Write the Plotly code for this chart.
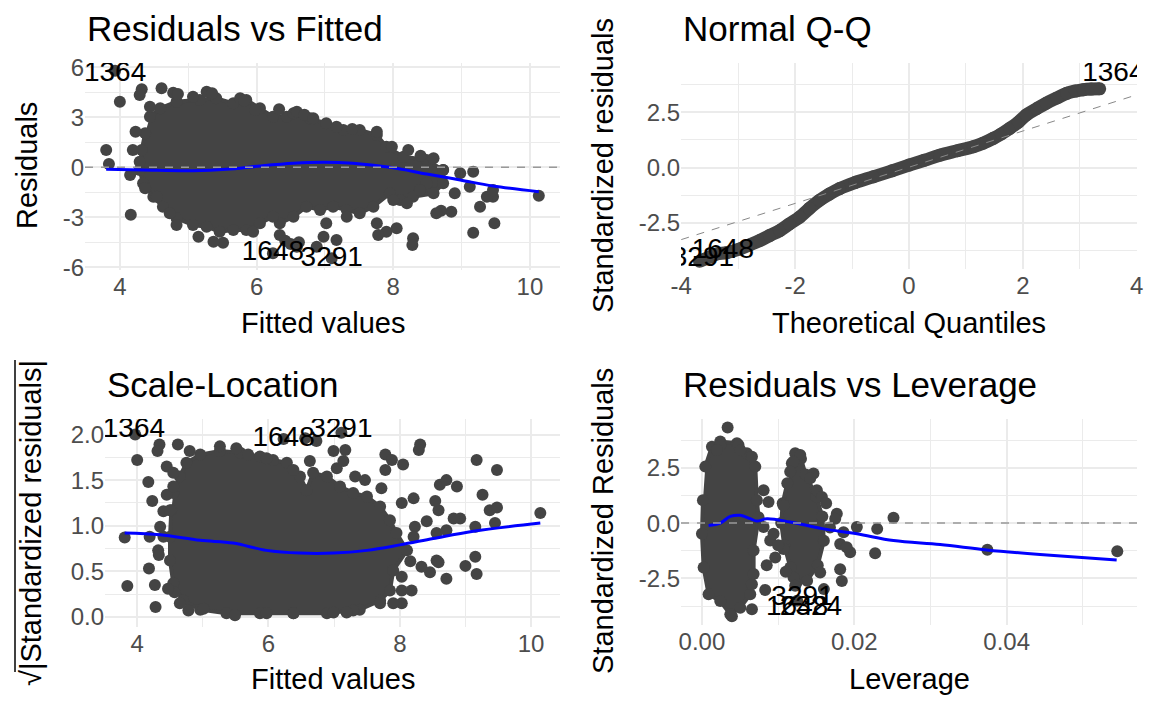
import plotly.graph_objects as go

# ---- Residuals vs Fitted ----
rvf_core_fitted = [4.44, 4.59, 4.83, 5.17, 5.41, 5.66, 5.85, 6.05, 6.24, 6.44,
                   6.54, 6.78, 7.02, 7.27, 7.51, 7.76, 7.90, 8.15, 8.49, 8.73,
                   8.73, 8.59, 8.29, 8.10, 7.95, 7.71, 7.51, 7.32, 7.12, 6.93,
                   6.73, 6.54, 6.34, 6.24, 6.05, 5.85, 5.66, 5.46, 5.27, 5.07,
                   4.83, 4.63, 4.49, 4.34, 4.29, 4.32, 4.37]
rvf_core_resid = [3.04, 3.54, 3.94, 4.04, 4.14, 3.84, 4.04, 3.54, 3.04, 3.04,
                  3.24, 2.94, 2.64, 2.24, 2.24, 1.94, 1.24, 0.64, 0.44, -0.16,
                  -0.96, -1.56, -1.76, -1.96, -1.56, -2.36, -2.76, -2.56, -2.36, -2.56,
                  -2.36, -2.96, -3.36, -2.96, -3.36, -3.76, -3.76, -3.86, -3.56, -3.46,
                  -3.06, -2.36, -1.76, -0.96, -0.16, 1.04, 2.04]
rvf_fitted = [3.93, 4.00, 3.80, 3.84, 4.16, 4.15, 4.23, 4.19, 4.32, 4.29,
              4.44, 4.61, 4.78, 4.85, 5.27, 5.35, 5.07, 5.76, 5.82, 5.98,
              6.33, 6.59, 6.70, 6.83, 7.17, 7.40, 7.76, 7.98, 8.22, 8.40,
              8.59, 8.73, 8.98, 9.17, 8.90, 9.12, 8.85, 8.70, 9.27, 9.46,
              9.37, 9.46, 9.17, 9.48, 10.13, 8.29, 8.28, 8.05, 7.90, 7.78,
              7.76, 7.32, 7.17, 7.02, 6.98, 6.88, 7.10, 6.24, 6.59, 6.34,
              5.95, 5.51, 5.37, 5.15, 4.83, 4.73, 4.54, 4.37, 4.29, 8.00,
              8.20, 8.63, 8.49, 8.39, 6.50, 6.62, 6.42]
rvf_resid = [5.80, 3.94, 1.04, 0.20, -2.84, -0.46, 2.14, 1.04, 4.68, 4.34,
             3.64, 4.74, 4.48, 4.40, 4.54, 4.45, 4.24, 4.14, 4.00, 3.44,
             3.48, 3.34, 3.15, 2.94, 2.44, 2.30, 2.14, 1.24, 1.04, 0.70,
             0.54, -0.16, -0.36, -0.26, -1.56, -1.16, -2.66, -2.60, -2.36, -1.76,
             -1.76, -1.36, -3.92, -3.36, -1.70, -4.26, -4.66, -3.66, -3.86, -4.06,
             -3.36, -2.96, -4.36, -3.36, -4.16, -4.76, -5.45, -5.16, -4.76, -4.06,
             -3.86, -4.52, -4.46, -4.16, -3.46, -2.76, -1.76, -1.26, 0.34, -1.96,
             -2.16, -2.76, -0.96, -1.36, -4.60, -4.50, -4.40]
rvf_smooth_x = [3.80, 4.34, 5.07, 5.56, 6.05, 6.54, 6.98, 7.41, 7.95, 8.49, 8.98, 9.46, 10.13]
rvf_smooth_y = [-0.12, -0.16, -0.20, -0.12, 0.08, 0.24, 0.30, 0.24, 0.0, -0.40, -0.76, -1.12, -1.46]
rvf_label_text = ["1364", "1648", "3291"]
rvf_label_x = [3.93, 6.24, 7.10]
rvf_label_y = [5.60, -5.16, -5.50]

# ---- Normal Q-Q ----
qq_theoretical = [-3.68, -3.50, -3.38, -3.20, -2.97, -2.80, -2.62, -2.45, -2.27, -2.10,
                  -1.92, -1.75, -1.57, -1.40, -1.22, -0.95, -0.63, -0.30, 0.00, 0.27,
                  0.54, 0.85, 1.13, 1.30, 1.48, 1.62, 1.77, 1.92, 2.06, 2.24,
                  2.41, 2.60, 2.77, 2.92, 3.06, 3.20, 3.35]
qq_std_resid = [-4.24, -4.05, -3.91, -3.85, -3.68, -3.50, -3.30, -3.08, -2.85, -2.55,
                -2.24, -1.85, -1.48, -1.20, -0.95, -0.68, -0.42, -0.15, 0.11, 0.33,
                0.56, 0.76, 0.94, 1.10, 1.32, 1.52, 1.77, 2.05, 2.38, 2.66,
                2.91, 3.15, 3.36, 3.46, 3.52, 3.55, 3.56]
qq_line_x = [-4.0, 4.0]
qq_line_y = [-3.26, 3.29]
qq_label_text = ["3291", "1648", "1364"]
qq_label_x = [-3.62, -3.27, 3.59]
qq_label_y = [-4.14, -3.76, 4.24]

# ---- Scale-Location ----
sl_core_fitted = [4.55, 4.65, 4.75, 4.96, 5.26, 5.57, 5.87, 6.07, 6.28, 6.48,
                  6.58, 6.68, 6.89, 7.09, 7.29, 7.50, 7.70, 7.85, 7.95, 8.11,
                  7.90, 7.85, 7.70, 7.39, 6.89, 6.38, 5.87, 5.36, 4.96, 4.70,
                  4.55, 4.50, 4.50, 4.52]
sl_core_root = [1.36, 1.54, 1.69, 1.78, 1.82, 1.80, 1.76, 1.72, 1.69, 1.54,
                1.39, 1.58, 1.54, 1.43, 1.36, 1.32, 1.21, 1.06, 0.92, 0.73,
                0.51, 0.29, 0.18, 0.08, 0.04, 0.04, 0.04, 0.04, 0.08, 0.18,
                0.37, 0.62, 0.88, 1.17]
sl_fitted = [4.00, 4.17, 4.23, 3.81, 3.85, 4.19, 4.32, 4.33, 4.18, 4.27,
             4.28, 4.34, 4.31, 4.45, 4.62, 4.80, 5.26, 5.51, 5.69, 5.97,
             6.38, 6.63, 6.99, 7.17, 7.04, 7.14, 7.32, 7.47, 7.72, 7.78,
             7.88, 8.05, 7.78, 8.21, 8.03, 8.31, 8.29, 8.61, 8.71, 8.87,
             9.17, 9.48, 9.26, 9.37, 9.48, 9.45, 10.14, 9.15, 8.92, 8.82,
             8.59, 8.54, 8.41, 8.56, 8.71, 8.23, 8.21, 9.15, 9.00, 9.17,
             8.71, 8.56, 8.59, 8.46, 8.33, 8.16, 8.03, 8.03, 8.18, 8.03,
             7.90, 7.70, 7.29, 7.19, 6.99, 6.38, 5.97, 5.49, 5.01, 4.78,
             4.65, 4.57, 4.47, 4.40, 4.35, 4.40, 4.50, 4.45, 4.55, 4.55,
             3.97, 6.23, 7.11, 6.56, 6.73]
sl_root = [1.72, 1.48, 1.27, 0.87, 0.34, 0.88, 0.73, 0.68, 0.53, 0.35,
           0.11, 1.89, 1.82, 1.65, 1.89, 1.82, 1.87, 1.85, 1.78, 1.74,
           1.61, 1.71, 1.82, 1.83, 1.63, 1.71, 1.54, 1.50, 1.41, 1.78,
           1.72, 1.67, 1.61, 1.30, 1.25, 1.89, 1.83, 1.45, 1.50, 1.43,
           1.72, 1.61, 1.34, 1.17, 1.20, 1.03, 1.14, 0.99, 1.08, 1.08,
           1.17, 1.27, 1.05, 0.92, 0.95, 0.99, 0.88, 0.66, 0.56, 0.47,
           0.42, 0.62, 0.60, 0.49, 0.55, 0.61, 0.44, 0.29, 0.29, 0.15,
           0.15, 0.15, 0.07, 0.05, 0.05, 0.04, 0.04, 0.02, 0.09, 0.07,
           0.15, 0.27, 0.31, 0.88, 0.99, 1.16, 1.17, 1.34, 1.43, 1.58,
           2.00, 1.95, 2.02, 1.96, 1.93]
sl_smooth_x = [3.81, 4.35, 4.96, 5.46, 5.97, 6.48, 6.99, 7.50, 8.00, 8.51, 9.12, 10.14]
sl_smooth_y = [0.92, 0.90, 0.84, 0.81, 0.73, 0.70, 0.70, 0.73, 0.79, 0.86, 0.94, 1.03]
sl_label_text = ["1364", "1648", "3291"]
sl_label_x = [3.95, 6.23, 7.11]
sl_label_y = [2.055, 1.95, 2.05]

# ---- Residuals vs Leverage ----
rvl_core_a_lev = [0.00044, 0.00131, 0.0024, 0.00459, 0.0059, 0.0070, 0.00721, 0.00743, 0.00678,
                  0.00678, 0.00634, 0.00503, 0.00372, 0.0024, 0.00087, 0.00022, 0.0, 0.00013]
rvl_core_a_std = [2.55, 3.45, 3.68, 3.61, 3.15, 2.55, 1.03, 0.27, -1.24,
                  -2.30, -3.21, -3.82, -4.12, -3.52, -3.21, -2.0, -0.48, 1.03]
rvl_core_b_lev = [0.0118, 0.0130, 0.0136, 0.0150, 0.0158, 0.0160, 0.0152,
                  0.0138, 0.0124, 0.0116, 0.0108, 0.0104, 0.0106, 0.0112]
rvl_core_b_std = [2.7, 2.9, 2.2, 1.2, 0.3, -0.8, -1.9,
                  -2.6, -2.7, -2.0, -1.0, 0.0, 0.9, 1.8]
rvl_leverage = [0.00337, 0.0024, 0.00197, 0.0048, 0.00503, 0.00656, 0.00809, 0.00874, 0.0107, 0.01224,
                0.0129, 0.0120, 0.01158, 0.01464, 0.01421, 0.01508, 0.01574, 0.0177, 0.01749, 0.02033,
                0.0230, 0.02514, 0.01858, 0.01814, 0.01945, 0.0190, 0.02273, 0.01814, 0.01836, 0.01552,
                0.0160, 0.01202, 0.01224, 0.0107, 0.0083, 0.00962, 0.00656, 0.00656, 0.00393, 0.03746,
                0.05451, 0.00809, 0.00896, 0.0094, 0.0100, 0.0085, 0.0163, 0.0168, 0.0110, 0.0125]
rvl_std = [4.32, 3.53, 3.30, 3.53, 3.30, 3.0, 1.48, 0.95, 0.80, 3.15,
           3.08, 2.77, 2.32, 2.24, 2.02, 1.48, 1.18, 0.42, 0.20, -0.18,
           -0.26, 0.24, -0.41, -0.94, -1.32, -1.09, -1.36, -2.08, -2.61, -2.23,
           -2.98, -2.45, -2.83, -1.17, -3.02, -1.55, -2.76, -3.89, -4.20, -1.20,
           -1.27, -0.18, -0.79, -0.48, -1.0, -1.9, 0.9, -0.2, -2.2, -3.5]
rvl_smooth_x = [0.00087, 0.0024, 0.00372, 0.00503, 0.00634, 0.00721, 0.00852, 0.01158,
                0.01596, 0.02033, 0.02514, 0.03126, 0.03738, 0.04437, 0.05443]
rvl_smooth_y = [-0.11, 0.0, 0.30, 0.35, 0.20, 0.09, 0.20, 0.05,
                -0.26, -0.48, -0.79, -0.97, -1.21, -1.42, -1.67]
rvl_label_text = ["3291", "1648", "2324"]
rvl_label_x = [0.0132, 0.0125, 0.0143]
rvl_label_y = [-3.36, -3.83, -3.83]

PT = "#444444"
GRID = "#EBEBEB"
FONT = "Liberation Sans, Arial, sans-serif"
# 페이지 body 기본 여백(8px)만큼 그림을 줄여서 창에 맞춤
OFF = 8
W, H = 1152 - OFF, 711 - OFF
MS = 12  # 점 크기

fig = go.Figure()


def cloud(xs, ys, ax):
    # 점이 빽빽한 영역 (dense core of the point cloud), 가장자리는 점으로 표시
    fig.add_trace(go.Scatter(x=xs, y=ys, xaxis=ax[0], yaxis=ax[1], mode="lines+markers",
                             fill="toself", fillcolor=PT,
                             line=dict(color=PT, width=4),
                             marker=dict(color=PT, size=MS), hoverinfo="skip"))


def points(xs, ys, ax):
    fig.add_trace(go.Scatter(x=xs, y=ys, xaxis=ax[0], yaxis=ax[1], mode="markers",
                             marker=dict(color=PT, size=MS), cliponaxis=True))


def smooth(xs, ys, ax):
    fig.add_trace(go.Scatter(x=xs, y=ys, xaxis=ax[0], yaxis=ax[1], mode="lines",
                             line=dict(color="#0000FF", width=3, shape="spline")))


def labels(xs, ys, texts, ax):
    fig.add_trace(go.Scatter(x=xs, y=ys, xaxis=ax[0], yaxis=ax[1], mode="text",
                             text=texts, textposition="middle center",
                             textfont=dict(size=28, color="black", family=FONT),
                             cliponaxis=True))


def hline0(ax):
    fig.add_shape(type="line", xref=ax[0] + " domain", x0=0, x1=1,
                  yref=ax[1], y0=0, y1=0, layer="above",
                  line=dict(color="#999999", width=1.5, dash="8px,8px"))


A1, A2, A3, A4 = ("x", "y"), ("x2", "y2"), ("x3", "y3"), ("x4", "y4")

# Residuals vs Fitted
cloud(rvf_core_fitted, rvf_core_resid, A1)
points(rvf_fitted, rvf_resid, A1)
smooth(rvf_smooth_x, rvf_smooth_y, A1)
hline0(A1)
labels(rvf_label_x, rvf_label_y, rvf_label_text, A1)

# Normal Q-Q
fig.add_trace(go.Scatter(x=qq_theoretical, y=qq_std_resid, xaxis="x2", yaxis="y2",
                         mode="lines+markers", line=dict(color=PT, width=13, shape="spline"),
                         marker=dict(color=PT, size=13), cliponaxis=True))
fig.add_trace(go.Scatter(x=qq_line_x, y=qq_line_y, xaxis="x2", yaxis="y2", mode="lines",
                         line=dict(color="#888888", width=1, dash="8px,8px")))
labels(qq_label_x, qq_label_y, qq_label_text, A2)

# Scale-Location
cloud(sl_core_fitted, sl_core_root, A3)
points(sl_fitted, sl_root, A3)
smooth(sl_smooth_x, sl_smooth_y, A3)
labels(sl_label_x, sl_label_y, sl_label_text, A3)

# Residuals vs Leverage
cloud(rvl_core_a_lev, rvl_core_a_std, A4)
cloud(rvl_core_b_lev, rvl_core_b_std, A4)
points(rvl_leverage, rvl_std, A4)
smooth(rvl_smooth_x, rvl_smooth_y, A4)
hline0(A4)
labels(rvl_label_x, rvl_label_y, rvl_label_text, A4)


def fx(px):
    # 화면 픽셀 -> paper 좌표
    return (px - OFF) / W


def fy(py):
    return 1 - (py - OFF) / H


def axis(dom, rng, vals, texts, minor_vals, anchor):
    return dict(domain=dom, range=rng, anchor=anchor, tickmode="array",
                tickvals=vals, ticktext=texts, showgrid=True, gridcolor=GRID,
                gridwidth=2, zeroline=False, showline=False, ticks="",
                automargin=False,
                tickfont=dict(size=24, color="#4D4D4D", family=FONT),
                minor=dict(tickmode="array", tickvals=minor_vals, showgrid=True,
                           gridcolor=GRID, gridwidth=1, ticks=""))


fig.update_layout(
    width=W, height=H, margin=dict(l=0, r=0, t=0, b=0, autoexpand=False),
    paper_bgcolor="white", plot_bgcolor="white", showlegend=False,
    font=dict(family=FONT, color="black"),
    xaxis=axis([fx(85), fx(560)], [3.49, 10.44], [4, 6, 8, 10], ["4", "6", "8", "10"],
               [5, 7, 9], "y"),
    yaxis=axis([fy(270), fy(63)], [-6.16, 6.26], [-6, -3, 0, 3, 6], ["-6", "-3", "0", "3", "6"],
               [-4.5, -1.5, 1.5, 4.5], "x"),
    xaxis2=axis([fx(681), fx(1137)], [-4.005, 4.005], [-4, -2, 0, 2, 4],
                ["-4", "-2", "0", "2", "4"], [-3, -1, 1, 3], "y2"),
    yaxis2=axis([fy(269), fy(63)], [-4.59, 4.73], [-2.5, 0, 2.5], ["-2.5", "0.0", "2.5"],
                [-3.75, -1.25, 1.25, 3.75], "x2"),
    xaxis3=axis([fx(105), fx(560)], [3.51, 10.44], [4, 6, 8, 10], ["4", "6", "8", "10"],
                [5, 7, 9], "y3"),
    yaxis3=axis([fy(627), fy(419)], [-0.11, 2.17], [0, 0.5, 1, 1.5, 2],
                ["0.0", "0.5", "1.0", "1.5", "2.0"], [0.25, 0.75, 1.25, 1.75], "x3"),
    xaxis4=axis([fx(681), fx(1137)], [-0.00275, 0.0571], [0, 0.02, 0.04],
                ["0.00", "0.02", "0.04"], [0.01, 0.03, 0.05], "y4"),
    yaxis4=axis([fy(625), fy(419)], [-4.6, 4.7], [-2.5, 0, 2.5], ["-2.5", "0.0", "2.5"],
                [-3.75, -1.25, 1.25, 3.75], "x4"),
)

# 제목과 축 제목 (titles and axis titles)
ann = []
for text, x, y in [("Residuals vs Fitted", 85, 28), ("Normal Q-Q", 681, 28),
                   ("Scale-Location", 105, 384), ("Residuals vs Leverage", 681, 384)]:
    ann.append(dict(text=text, x=fx(x), y=fy(y), xref="paper", yref="paper",
                    xanchor="left", yanchor="middle", showarrow=False,
                    font=dict(size=35, color="black", family=FONT)))
for text, x, y in [("Fitted values", 322.5, 323), ("Theoretical Quantiles", 909, 323),
                   ("Fitted values", 332.5, 679), ("Leverage", 909, 679)]:
    ann.append(dict(text=text, x=fx(x), y=fy(y), xref="paper", yref="paper",
                    xanchor="center", yanchor="middle", showarrow=False,
                    font=dict(size=29, color="black", family=FONT)))
for text, x, y in [("Residuals", 27, 166), ("Standardized residuals", 603, 166),
                   ("√|Standardized residuals|", 31, 523), ("Standardized Residuals", 603, 521)]:
    ann.append(dict(text=text, x=fx(x), y=fy(y), xref="paper", yref="paper",
                    xanchor="center", yanchor="middle", textangle=-90, showarrow=False,
                    font=dict(size=29, color="black", family=FONT)))
fig.update_layout(annotations=ann)

# 제곱근 기호 윗줄 (overbar of the square-root sign in the Scale-Location y title)
fig.add_shape(type="line", xref="paper", yref="paper", x0=fx(15), x1=fx(15),
              y0=fy(672), y1=fy(360), line=dict(color="black", width=1.5))

fig.write_html("out.html")
